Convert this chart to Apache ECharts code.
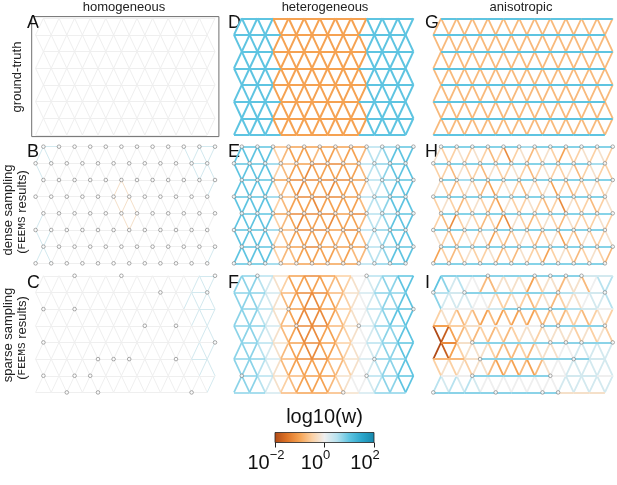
<!DOCTYPE html>
<html><head><meta charset="utf-8">
<script src="https://cdn.jsdelivr.net/npm/echarts@6/dist/echarts.min.js"></script>
<style>html,body{margin:0;padding:0;background:#fff}#c{width:617px;height:485px}</style>
</head><body><div id="c"></div>
<script>
// Edge weights as log10(w) level codes: a=-2 ... i=0 ... q=+2 (step 0.25)
const LEVELS = 'abcdefghijklmnopq';
const columnTitles = ['homogeneous', 'heterogeneous', 'anisotropic'];
const panelLetters = ['A','B','C','D','E','F','G','H','I'];
const colorbarTitle = 'log10(w)';
const colorbarTicks = [-2, 0, 2];

// horizontal edges: 8 rows x 11 ; diagonal (zigzag) edges: 7 bands x 23
const A_horiz = ["iiiii iiiii i","iiiii iiiii i","iiiii iiiii i","iiiii iiiii i","iiiii iiiii i","iiiii iiiii i","iiiii iiiii i","iiiii iiiii i"];
const A_diag  = ["iiiii iiiii iiiii iiiii iii","iiiii iiiii iiiii iiiii iii","iiiii iiiii iiiii iiiii iii","iiiii iiiii iiiii iiiii iii","iiiii iiiii iiiii iiiii iii","iiiii iiiii iiiii iiiii iii","iiiii iiiii iiiii iiiii iii"];
const B_horiz = ["jiiii iiiii j","iiiii iiiii j","iiiii iiiii i","iiiii iiiii i","iiiii iiiii i","iiiii iiiii i","iiiii iiiii i","iiiii iiiii i"];
const B_diag  = ["jjiii iiiii iiiii iiiij jjj","jiiii iiiii iiiii iiiii jjj","iiiii iiiii hhiii iiiii iij","iiiii iiiii hhhii iiiii iii","jiiii iiiii ihhii iiiii iii","jjiii iiiii iiiii iiiii iii","jjiii iiiii iiiii iiiii iij"];
const C_horiz = ["iiiii iiiii j","iiiii iiiii j","iiiii iiiii j","iiiii iiiii i","iiiii iiiii i","iiiii iiiii j","iiiii iiiii i","iiiii iiiii i"];
const C_diag  = ["iiiii iiiii iiiii iiiii jjj","iiiii iiiii iiiii iiiij jjj","iiiii iiiii iiiii iiiii jjj","iiiii iiiii iiiii iiiii ijj","iiiii iiiii iiiii iiiii jjj","iiiii iiiii iiiii iiiii ijj","iiiii iiiii iiiii iiiii iij"];
const D_horiz = ["mmeee eeemm m","mmmee eeemm m","mmeee eeemm m","mmmee eeemm m","mmeee eeemm m","mmmee eeemm m","mmeee eeemm m","mmmee eeemm m"];
const D_diag  = ["mmmmm eeeee eeeee eemmm mmm","mmmmm eeeee eeeee eemmm mmm","mmmmm eeeee eeeee eemmm mmm","mmmmm eeeee eeeee eemmm mmm","mmmmm eeeee eeeee eemmm mmm","mmmmm eeeee eeeee eemmm mmm","mmmmm eeeee eeeee eemmm mmm"];
const E_horiz = ["mmfee eeekl m","mmlfe ddekl m","mmedd ddekl m","mmlfd ddekl m","mmedd dedkl m","mmlfd dedkl m","mmfed eeekl m","mmlfe eeekl m"];
const E_diag  = ["mmmmm gfeee feefe efkkl mmm","mmmmm gfeed eeeee efkkl mmm","mmmmm gfede eedee efjkl mmm","mmmmm gfeee deeee efkkl mmm","mmmmm gfede eedee efkkl mmm","mmmmm gfeee eeefe efkkl mmm","mmmmm gffee eeefe ffkkl mmm"];
const F_horiz = ["lkhed egikl m","lljfd dfhjl l","lkhed egikl m","lljfd dfhjl l","lkhed egikl m","lljfd dfhjl l","lkhfe ehikl m","lljfe efhjl l"];
const F_diag  = ["lllkj hgeee eeffg hijkl lmm","lllkj hfeed deefg hijkl lmm","lllkj hfedd ddefg hijkl mmm","lllkj hfedd deefg hijkl lmm","lllkj hfeed deefg hijkl lmm","lllkj hfeee eeffg hijkl lmm","lllkj hgfee eefgh iijkl lmm"];
const G_horiz = ["mmmmm mmmmm m","mmmmm mmmmm m","mmmmm mmmmm m","mmmmm mmmmm m","mmmmm mmmmm m","mmmmm mmmmm m","mmmmm mmmmm m","mmmmm mmmmm m"];
const G_diag  = ["fffff fffff fffff fffff fff","fffff fffff fffff fffff fff","fffff fffff fffff fffff fff","fffff fffff fffff fffff fff","fffff fffff fffff fffff fff","fffff fffff fffff fffff fff","fffff fffff fffff fffff fff"];
const H_horiz = ["mmmmm lmmmm m","mmmmm mmmmm l","mlmmm mmmmm m","mmmmm mmlmm m","mmmmm mmmmm m","mmmlm mmmmm m","mmmmm mmmmm m","mmmmm mmmmm m"];
const H_diag  = ["hgghg hgfgd ghfgh geggh ghg","ggfhg gfhgg hgfgh gghfg hgg","hgfgh gfegh gfhgh egfgg hgh","ghgfg hgfeh gghgf gdhgg fgh","gfdgh gfged hgfgh gfhgg ghg","hgfgh ghegf ghgfg hegfh ggh","egfgh gghfg fhgge ghgfg hgf"];
const I_horiz = ["lllll llllj j","kjlll lllkj j","iiijl lllkj i","eghii iilll l","dhlll lllll l","ffhll lllll j","iilll llijj i","lllll lllhh h"];
const I_diag  = ["mljki iffhh hhegh hfhhf ikk","ljjjj iihgg hgfgh fghhi jjk","ghgfg fefef efeff gfggf ghg","abefg fgfgf ghhgh hhhgh ghg","abegh hhgff fgfhh hiijj jjj","ghghg hhfef efefh iijjj jjj","kjkjk jiiii iiiii ijjjj jjj"];

// sampled nodes per row (node index within row)
const ALL = [0,1,2,3,4,5,6,7,8,9,10,11];
const A_nodes = [[],[],[],[],[],[],[],[]];
const B_nodes = [ALL,ALL,ALL,ALL,ALL,ALL,ALL,ALL];
const C_nodes = [[2,5,11],[8,11],[0,2],[7,9],[0,11],[4,5,6,9],[0,2,3],[2,4,10]];
const D_nodes = [[],[],[],[],[],[],[],[]];
const E_nodes = [ALL,ALL,ALL,ALL,ALL,ALL,ALL,ALL];
const F_nodes = [[1,8],[],[3,11],[4,8],[],[9],[0,8],[7]];
const G_nodes = [[],[],[],[],[],[],[],[]];
const H_nodes = [ALL,ALL,ALL,ALL,ALL,ALL,ALL,ALL];
const I_nodes = [[3,6,7,8,9],[0,2,8,11],[5,7],[7,8,11],[2,7,8,9,11],[3,9],[2,7],[0,4,7,8]];

const panels = [
  {h:A_horiz,d:A_diag,n:A_nodes,w:1.0},{h:B_horiz,d:B_diag,n:B_nodes,w:1.0},{h:C_horiz,d:C_diag,n:C_nodes,w:1.0},
  {h:D_horiz,d:D_diag,n:D_nodes,w:2.0},{h:E_horiz,d:E_diag,n:E_nodes,w:1.7},{h:F_horiz,d:F_diag,n:F_nodes,w:1.7},
  {h:G_horiz,d:G_diag,n:G_nodes,w:1.8},{h:H_horiz,d:H_diag,n:H_nodes,w:1.6},{h:I_horiz,d:I_diag,n:I_nodes,w:1.8}
];

// colormap (log10 w -> colour)
const CMAP = [[-2,'#b04a17'],[-1.5,'#de7427'],[-1,'#f5a252'],[-0.5,'#fbd0a3'],[0,'#efefef'],[0.5,'#b7e2ef'],[1,'#5ec4e1'],[1.5,'#2ba6cb'],[2,'#1587ab']];
function hex2rgb(h){return [parseInt(h.slice(1,3),16),parseInt(h.slice(3,5),16),parseInt(h.slice(5,7),16)];}
function cmap(v){
  v=Math.max(-2,Math.min(2,v));
  for(let i=0;i<CMAP.length-1;i++){
    const [v0,c0]=CMAP[i],[v1,c1]=CMAP[i+1];
    if(v>=v0&&v<=v1){const t=(v-v0)/(v1-v0);const a=hex2rgb(c0),b=hex2rgb(c1);
      return 'rgb('+a.map((x,k)=>Math.round(x+(b[k]-x)*t)).join(',')+')';}
  }
  return CMAP[CMAP.length-1][1];
}
function decode(s){return s.replace(/\s/g,'').split('').map(ch=>-2+0.25*LEVELS.indexOf(ch));}
function rowX0(r){return r%2===0?0.5:0;}

const gridLefts=[31.7,230.1,429.4], gridTops=[16.6,145.0,274.1];
const grids=[],xAxes=[],yAxes=[],series=[];
panels.forEach((p,idx)=>{
  const col=Math.floor(idx/3),row=idx%3;
  grids.push({left:gridLefts[col],top:gridTops[row],width:187.2,height:120,
    show:idx===0,borderColor:'#6f6f6f',borderWidth:1,backgroundColor:'transparent'});
  xAxes.push({gridIndex:idx,type:'value',min:-0.25,max:11.75,show:false});
  yAxes.push({gridIndex:idx,type:'value',min:-0.1,max:7.1,inverse:true,show:false});
  const diag=[],hor=[];
  p.d.forEach((s,b)=>{
    const oddRow=b%2===1?b:b+1, evenRow=b%2===1?b+1:b;
    decode(s).forEach((v,k)=>{
      const xa=k/2,xb=(k+1)/2;
      const ya=(k%2===0)?oddRow:evenRow, yb=(k%2===0)?evenRow:oddRow;
      diag.push({v,coords:[[xa,ya],[xb,yb]],lineStyle:{color:cmap(v)}});
    });
  });
  p.h.forEach((s,r)=>{
    const x0=rowX0(r);
    decode(s).forEach((v,j)=>{hor.push({v,coords:[[x0+j,r],[x0+j+1,r]],lineStyle:{color:cmap(v)}});});
  });
  diag.sort((a,b)=>Math.abs(a.v)-Math.abs(b.v));
  series.push({type:'lines',coordinateSystem:'cartesian2d',xAxisIndex:idx,yAxisIndex:idx,silent:true,
    lineStyle:{width:p.w,opacity:1},data:diag,z:2});
  series.push({type:'lines',coordinateSystem:'cartesian2d',xAxisIndex:idx,yAxisIndex:idx,silent:true,
    lineStyle:{width:p.w,opacity:1},data:hor,z:3});
  const pts=[];
  p.n.forEach((list,r)=>list.forEach(i=>pts.push([rowX0(r)+i,r])));
  if(pts.length) series.push({type:'scatter',xAxisIndex:idx,yAxisIndex:idx,silent:true,symbol:'circle',symbolSize:3.6,
    itemStyle:{color:'#ffffff',borderColor:'#7a7a7a',borderWidth:0.8},data:pts,z:5});
});

// colorbar
const cbIdx=9;
grids.push({left:275,top:432.5,width:99,height:10});
xAxes.push({gridIndex:cbIdx,type:'value',min:colorbarTicks[0],max:colorbarTicks[colorbarTicks.length-1],interval:2,
  axisLine:{show:false},splitLine:{show:false},
  axisTick:{show:true,length:5,lineStyle:{color:'#222',width:1}},
  axisLabel:{margin:6,padding:[0,18,0,0],color:'#111',
    formatter:v=>'{b|10}{s|'+(v<0?'\u2212':'')+Math.abs(v)+'}',
    rich:{b:{fontSize:20,fontFamily:'Liberation Sans',padding:[8,0,0,0],lineHeight:22,color:'#111'},
          s:{fontSize:13,fontFamily:'Liberation Sans',verticalAlign:'top',lineHeight:14,color:'#111'}}}});
yAxes.push({gridIndex:cbIdx,type:'value',min:0,max:1,show:false});
const stops=[];CMAP.forEach(([v,c])=>stops.push({offset:(v+2)/4,color:c}));
series.push({type:'custom',xAxisIndex:cbIdx,yAxisIndex:cbIdx,silent:true,data:[[colorbarTicks[0],colorbarTicks[2]]],
  renderItem:(params,api)=>{const p0=api.coord([api.value(0),1]),p1=api.coord([api.value(1),0]);
    return {type:'rect',shape:{x:p0[0],y:p0[1],width:p1[0]-p0[0],height:p1[1]-p0[1]},
      style:{fill:new echarts.graphic.LinearGradient(0,0,1,0,stops),stroke:'#222',lineWidth:0.8}};}});

const FONT='"Liberation Sans", Arial, sans-serif';
const graphic=[];
[124,325,521].forEach((x,c)=>graphic.push({type:'text',x:x,y:7,style:{text:columnTitles[c],font:'13px '+FONT,fill:'#222',textAlign:'center',textVerticalAlign:'middle'}}));
const letterX=[27,228,425], letterY=[23.5,152.5,283];
panelLetters.forEach((L,idx)=>{const col=Math.floor(idx/3),row=idx%3;
  graphic.push({type:'text',x:letterX[col],y:letterY[row],style:{text:L,font:'18px '+FONT,fill:'#111',textAlign:'left',textVerticalAlign:'middle'}});});
function vtext(x,y,text,rich){graphic.push({type:'text',x:x,y:y,rotation:Math.PI/2,
  style:{x:0,y:0,text:text,font:'13px '+FONT,fill:'#222',textAlign:'center',textVerticalAlign:'middle',rich:rich}});}
const feemsRich={a:{fontSize:13,fontFamily:'Liberation Sans',color:'#222'},b:{fontSize:11,fontFamily:'Liberation Mono',color:'#222'}};
vtext(17,77,'ground-truth');
vtext(8,210,'dense sampling');
vtext(22,212,'{a|(}{b|FEEMS}{a| results)}',feemsRich);
vtext(8,335,'sparse sampling');
vtext(22,338,'{a|(}{b|FEEMS}{a| results)}',feemsRich);
graphic.push({type:'text',x:324.5,y:417,style:{text:colorbarTitle,font:'20px '+FONT,fill:'#111',textAlign:'center',textVerticalAlign:'middle'}});

const chart=echarts.init(document.getElementById('c'),null,{renderer:'canvas'});
chart.setOption({animation:false,backgroundColor:'#fff',grid:grids,xAxis:xAxes,yAxis:yAxes,series:series,graphic:graphic});
</script></body></html>
